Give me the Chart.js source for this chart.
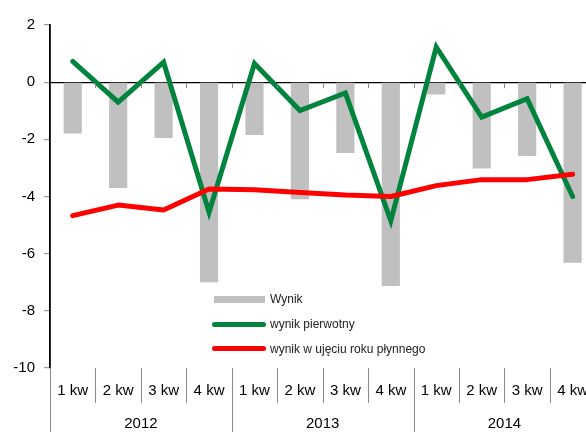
<!DOCTYPE html>
<html lang="pl">
<head>
<meta charset="utf-8">
<title>Wynik</title>
<script src="https://cdn.jsdelivr.net/npm/chart.js@4.4.1/dist/chart.umd.min.js"></script>
<style>
    html, body { margin: 0; padding: 0; background: #fff; overflow: hidden; }
    #wrap { position: relative; width: 602px; height: 432px; }
    .leyenda { position: absolute; left: 212px; top: 287px; font: 12px "Liberation Sans", Arial, sans-serif; color: #222; }
    .fila { display: flex; align-items: center; height: 24.7px; white-space: nowrap; }
    .sw { width: 54px; margin-right: 4px; }
</style>
</head>
<body>
<div id="wrap">
    <canvas id="wynikChart" width="602" height="432"></canvas>
    <div class="leyenda">
        <div class="fila"><span class="sw" style="height:7px;background:#c0c0c0;margin-left:2px;width:51px;margin-right:5px"></span>Wynik</div>
        <div class="fila"><span class="sw" style="height:5px;border-radius:3px;background:#00843d"></span>wynik pierwotny</div>
        <div class="fila"><span class="sw" style="height:5px;border-radius:3px;background:#ff0000"></span>wynik w ujęciu roku płynnego</div>
    </div>
</div>
<script>
document.addEventListener('DOMContentLoaded', function() {

    // datos
    const kwartaly = ['1 kw', '2 kw', '3 kw', '4 kw', '1 kw', '2 kw', '3 kw', '4 kw', '1 kw', '2 kw', '3 kw', '4 kw'];
    const lata = ['2012', '2013', '2014'];
    const wynik = [-1.8, -3.7, -1.95, -7.0, -1.85, -4.1, -2.48, -7.13, -0.43, -3.02, -2.58, -6.32];
    const wynikPierwotny = [0.73, -0.70, 0.70, -4.55, 0.65, -0.99, -0.38, -4.85, 1.23, -1.22, -0.58, -4.0];
    const wynikPlynny = [-4.67, -4.30, -4.47, -3.74, -3.76, -3.86, -3.95, -4.0, -3.62, -3.41, -3.41, -3.22];
    const yTicks = [2, 0, -2, -4, -6, -8, -10];

    const fuente = '"Liberation Sans", Arial, sans-serif';

    // lineas separadoras debajo del eje x y marquitas en el cero
    const separadores = {
        id: 'separadores',
        afterDraw(chart) {
            const { ctx, chartArea, scales } = chart;
            const x = scales.x;
            const y0 = scales.y.getPixelForValue(0);
            ctx.save();
            ctx.strokeStyle = '#8a8a8a';
            ctx.lineWidth = 1;
            for (let j = 0; j <= kwartaly.length; j++) {
                const px = Math.round(x.getPixelForValue(j - 0.5)) + 0.5;
                const fin = (j % 4 === 0) ? chart.height : chartArea.bottom + 35;
                ctx.beginPath();
                ctx.moveTo(px, chartArea.bottom);
                ctx.lineTo(px, fin);
                ctx.stroke();
                if (j > 0 && j < kwartaly.length) {
                    ctx.beginPath();
                    ctx.moveTo(px, y0 + 1);
                    ctx.lineTo(px, y0 + 6);
                    ctx.stroke();
                }
            }
            ctx.restore();
        }
    };

    const ctx = document.getElementById('wynikChart').getContext('2d');

    new Chart(ctx, {
        type: 'bar',
        data: {
            labels: kwartaly,
            datasets: [{
                label: 'Wynik',
                data: wynik,
                backgroundColor: '#c0c0c0',
                barPercentage: 0.4,
                categoryPercentage: 1,
                order: 3
            }, {
                type: 'line',
                label: 'wynik pierwotny',
                data: wynikPierwotny,
                borderColor: '#00843d',
                borderWidth: 5,
                pointRadius: 0,
                tension: 0,
                borderCapStyle: 'round',
                borderJoinStyle: 'miter',
                order: 2
            }, {
                type: 'line',
                label: 'wynik w ujęciu roku płynnego',
                data: wynikPlynny,
                borderColor: '#ff0000',
                borderWidth: 5,
                pointRadius: 0,
                tension: 0,
                borderCapStyle: 'round',
                borderJoinStyle: 'round',
                order: 1
            }]
        },
        options: {
            responsive: false,
            animation: false,
            devicePixelRatio: 1,
            layout: { padding: { top: 25, right: 0, bottom: 0, left: 0 } },
            scales: {
                x: {
                    offset: true,
                    afterFit: function(scale) { scale.height = 33; },
                    grid: { display: false, drawTicks: false },
                    border: { display: false },
                    ticks: { color: '#000', font: { family: fuente, size: 15 }, padding: 14, maxRotation: 0, autoSkip: false }
                },
                x2: {
                    type: 'category',
                    labels: lata,
                    position: 'bottom',
                    offset: true,
                    afterFit: function(scale) { scale.height = 31; },
                    grid: { display: false, drawTicks: false },
                    border: { display: false },
                    ticks: { color: '#000', font: { family: fuente, size: 15 }, padding: 14, maxRotation: 0 }
                },
                y: {
                    min: yTicks[yTicks.length - 1],
                    max: yTicks[0],
                    afterFit: function(scale) { scale.width = 50; },
                    afterBuildTicks: function(scale) {
                        scale.ticks = yTicks.map(v => ({ value: v }));
                    },
                    grid: {
                        color: c => (c.tick && c.tick.value === 0) ? '#000' : 'transparent',
                        lineWidth: 1.2,
                        tickColor: '#9a9a9a',
                        tickLength: 6
                    },
                    border: { display: true, color: '#000', width: 1.8 },
                    ticks: { color: '#000', font: { family: fuente, size: 15 }, padding: 9 }
                }
            },
            plugins: {
                legend: { display: false },
                tooltip: { enabled: false }
            }
        },
        plugins: [separadores]
    });

});
</script>
</body>
</html>
